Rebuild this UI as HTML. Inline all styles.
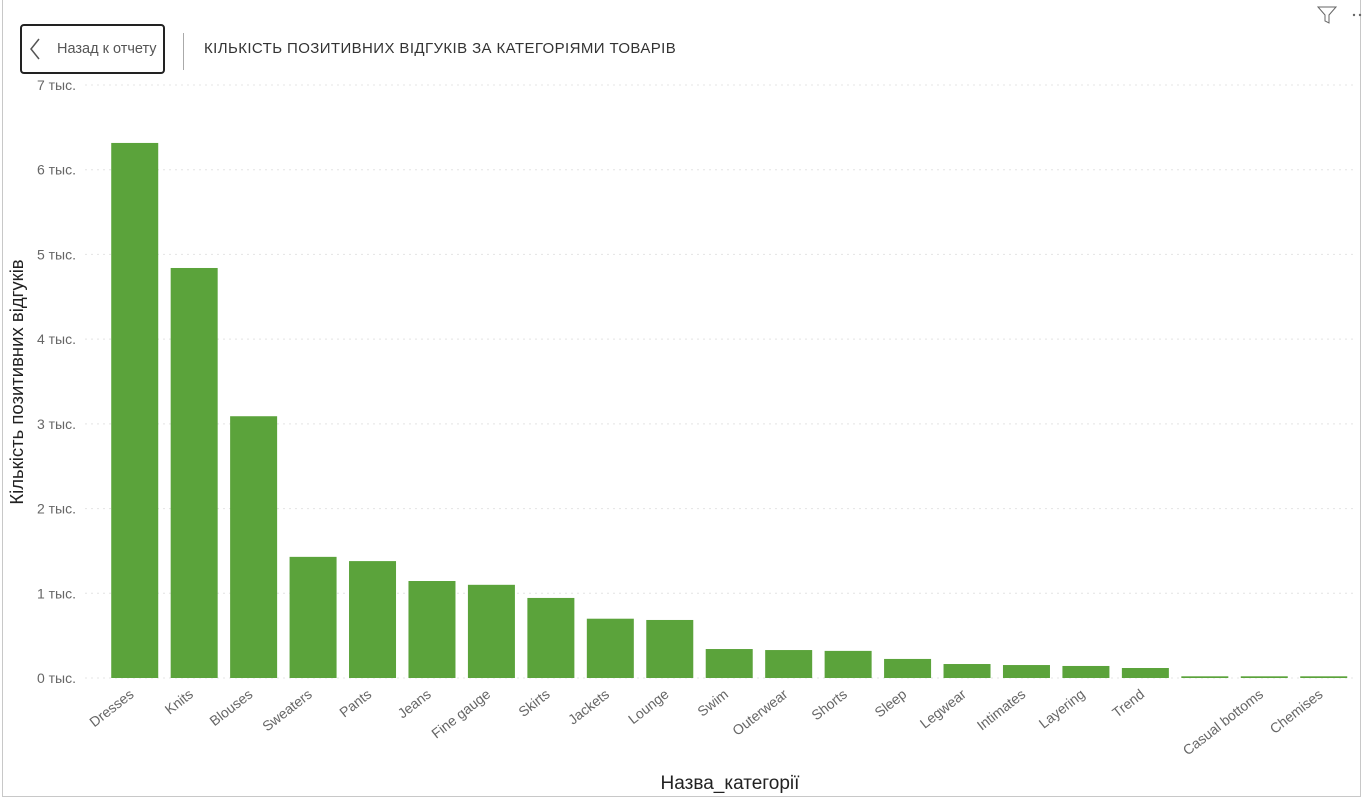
<!DOCTYPE html>
<html><head><meta charset="utf-8"><style>
body{margin:0;width:1364px;height:801px;background:#fff;font-family:"Liberation Sans","DejaVu Sans",sans-serif;overflow:hidden;position:relative}
#frame{position:absolute;left:2px;top:0;width:1359px;height:797px;border:1px solid #c8c8c8;border-top:none;box-sizing:border-box}
#back{position:absolute;left:20px;top:24px;width:145px;height:50px;border:2px solid #222;border-radius:4px;box-sizing:border-box;font-size:14.5px;color:#555;cursor:pointer}
#back span{position:absolute;left:35px;top:15px}
#sep{position:absolute;left:183px;top:33px;width:1px;height:37px;background:#aaa}
#title{position:absolute;left:204px;top:40px;font-size:15px;color:#333;letter-spacing:0.4px}
svg{position:absolute;left:0;top:0}
</style></head><body>
<div id="frame"></div>
<div id="back">
<svg width="20" height="30" style="left:4px;top:9px"><polyline points="13,4 5,14 13,24" fill="none" stroke="#555" stroke-width="1.5"/></svg>
<span>Назад к отчету</span></div>
<div id="sep"></div>
<div id="title">КІЛЬКІСТЬ ПОЗИТИВНИХ ВІДГУКІВ ЗА КАТЕГОРІЯМИ ТОВАРІВ</div>
<svg width="1364" height="801" id="chart">
<g><polygon points="1318,7 1336,7 1329,15 1329,23 1325,21 1325,15" fill="none" stroke="#666" stroke-width="1"/></g>
<g><circle cx="1354" cy="15" r="1.2" fill="#666"/><circle cx="1360" cy="15" r="1.2" fill="#666"/></g>
<text x="23" y="382" transform="rotate(-90 23 382)" text-anchor="middle" font-size="18.5" fill="#222">Кількість позитивних відгуків</text>
<text x="730" y="789" text-anchor="middle" font-size="19" fill="#222">Назва_категорії</text>
</svg>
<script>
const categories=["Dresses","Knits","Blouses","Sweaters","Pants","Jeans","Fine gauge","Skirts","Jackets","Lounge","Swim","Outerwear","Shorts","Sleep","Legwear","Intimates","Layering","Trend","Casual tops","Casual bottoms","Chemises"];
const values=[6316,4840,3090,1430,1380,1145,1100,945,700,685,342,330,320,225,165,153,142,118,20,20,20];
const yTicks=[0,1000,2000,3000,4000,5000,6000,7000];
const yTickLabels=["0 тыс.","1 тыс.","2 тыс.","3 тыс.","4 тыс.","5 тыс.","6 тыс.","7 тыс."];
const hiddenLabels=["Casual tops"];
const NS="http://www.w3.org/2000/svg";
const svg=document.getElementById('chart');
const y0=678,y1=85,yMax=7000,xL=105,step=59.45,bw=47;
const y=v=>y0-(v/yMax)*(y0-y1);
const x=i=>xL+i*step+(step-bw)/2;
function mk(t,a){const e=document.createElementNS(NS,t);for(const k in a)e.setAttribute(k,a[k]);svg.appendChild(e);return e;}
yTicks.forEach((t,i)=>{
 const g=mk('line',{x1:85,x2:1355,y1:y(t),y2:y(t),stroke:'#e4e4e4','stroke-dasharray':'2,4'});
 
 
 const l=mk('text',{x:76,y:y(t)+5,'text-anchor':'end','font-size':14,fill:'#666'});
 l.textContent=yTickLabels[i];
 
 
});
categories.forEach((c,i)=>{
 const r=mk('rect',{x:x(i),y:y(values[i]),width:bw,height:y0-y(values[i]),fill:'#5ba33b'});
 
 
 if(hiddenLabels.includes(c))return;
 const cx=x(i)+bw/2,cy=696;
 const t=mk('text',{x:cx,y:cy,'text-anchor':'end','font-size':14,fill:'#666',transform:`rotate(-38 ${cx} ${cy})`});
 t.textContent=c;
 
 
});
</script>
</body></html>
